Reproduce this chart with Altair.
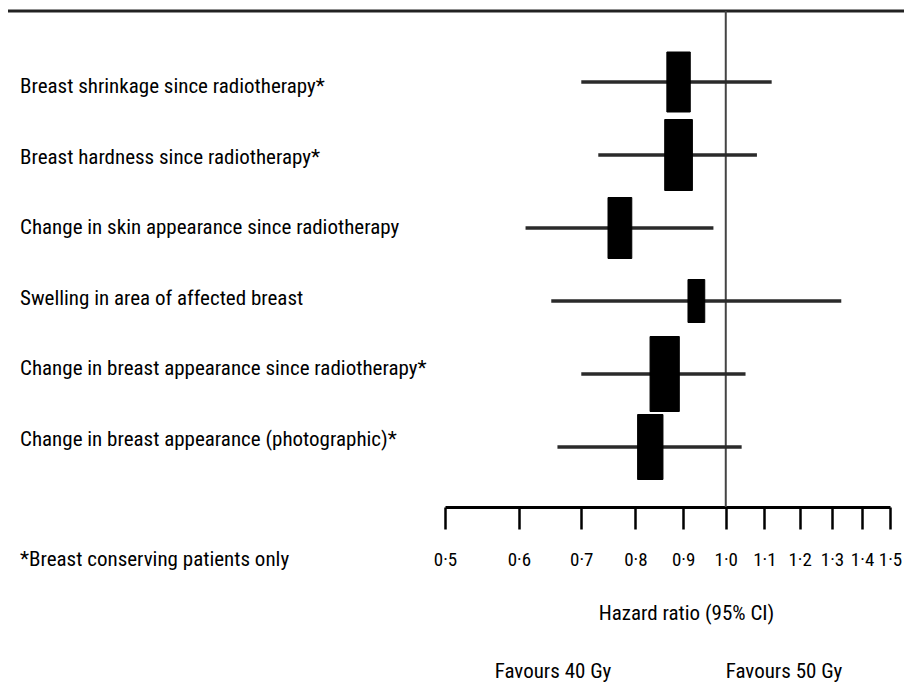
import altair as alt
import pandas as pd

outcomes = [
    "Breast shrinkage since radiotherapy*",
    "Breast hardness since radiotherapy*",
    "Change in skin appearance since radiotherapy",
    "Swelling in area of affected breast",
    "Change in breast appearance since radiotherapy*",
    "Change in breast appearance (photographic)*",
]
hazard_ratio = [0.89, 0.89, 0.77, 0.93, 0.86, 0.83]
ci_low = [0.70, 0.73, 0.61, 0.65, 0.70, 0.66]
ci_high = [1.12, 1.08, 0.97, 1.33, 1.05, 1.04]
weights = [60, 71, 61, 43, 75, 65]

tick_values = [0.5, 0.6, 0.7, 0.8, 0.9, 1.0, 1.1, 1.2, 1.3, 1.4, 1.5]

footnote = "*Breast conserving patients only"
x_title = "Hazard ratio (95% CI)"
favours_left = "Favours 40 Gy"
favours_right = "Favours 50 Gy"

FONT = "Roboto Condensed, Liberation Sans Narrow, Lato, sans-serif"
W, H = 445, 496

df = pd.DataFrame({
    "outcome": outcomes,
    "hr": hazard_ratio,
    "lo": ci_low,
    "hi": ci_high,
    "w": weights,
})

y_enc = alt.Y("outcome:N", sort=outcomes, axis=None,
              scale=alt.Scale(type="point", padding=0, range=[71, 436]))
y_lab = alt.Y("outcome:N", sort=outcomes, axis=None,
              scale=alt.Scale(type="point", padding=0, range=[76, 429]))
x_scale = alt.Scale(type="log", domain=[0.5, 1.5], nice=False)

base = alt.Chart(df)

ci = base.mark_rule(color="#2a2a2a", strokeWidth=3.5).encode(
    x=alt.X("lo:Q", scale=x_scale,
            axis=alt.Axis(values=tick_values,
                          labelExpr="replace(format(datum.value, '.1f'), '.', '·')",
                          title=x_title, titleFont=FONT, titleFontSize=21,
                          titleFontWeight="normal", titleColor="black",
                          titleX=241, titleY=106, titleBaseline="middle",
                          labelFont=FONT, labelFontSize=19, labelColor="black",
                          labelPadding=21, labelFlush=False, labelOverlap=False,
                          tickSize=22, tickWidth=2.5, tickColor="black",
                          domainWidth=3, domainColor="black", grid=False)),
    x2="hi:Q",
    y=y_enc,
)

boxes = base.transform_calculate(area="datum.w * datum.w").mark_point(
    shape="M-0.39,-1L0.39,-1L0.39,1L-0.39,1Z",
    filled=True, fill="black", stroke="black", strokeWidth=1, opacity=1,
).encode(
    x=alt.X("hr:Q", scale=x_scale),
    y=y_enc,
    size=alt.Size("area:Q", scale=None, legend=None),
)

labels = base.mark_text(align="left", baseline="middle", font=FONT,
                        fontSize=21, color="black", dy=0).encode(
    x=alt.value(-425),
    y=y_lab,
    text="outcome:N",
)

ref = alt.Chart(pd.DataFrame({"v": [1.0]})).mark_rule(
    color="#444444", strokeWidth=2
).encode(x=alt.X("v:Q", scale=x_scale), y=alt.value(0), y2=alt.value(H))

top = alt.Chart(pd.DataFrame({"v": [1.0]})).mark_rule(
    color="#222222", strokeWidth=3
).encode(x=alt.value(-440), x2=alt.value(W + 30), y=alt.value(0))

notes = alt.Chart(pd.DataFrame({
    "t": [footnote, favours_left, favours_right],
    "px": [-425, 108, 339],
    "py": [549, 661, 661],
    "al": ["left", "center", "center"],
}))
foot = notes.transform_filter("datum.al == 'left'").mark_text(
    align="left", baseline="middle", font=FONT, fontSize=21, color="black"
).encode(x=alt.X("px:Q", scale=None), y=alt.Y("py:Q", scale=None), text="t:N")
fav = notes.transform_filter("datum.al == 'center'").mark_text(
    align="center", baseline="middle", font=FONT, fontSize=21, color="black"
).encode(x=alt.X("px:Q", scale=None), y=alt.Y("py:Q", scale=None), text="t:N")

chart = alt.layer(top, ref, ci, boxes, labels, foot, fav).resolve_scale(
    y="independent"
).properties(
    width=W, height=H,
    background="white",
    autosize=alt.AutoSizeParams(type="none"),
    padding={"left": 437, "top": 3, "right": 14, "bottom": 180},
).configure_view(stroke=None).configure_axis(grid=False)

chart.save("out.html", embed_options={"renderer": "svg", "actions": False})
